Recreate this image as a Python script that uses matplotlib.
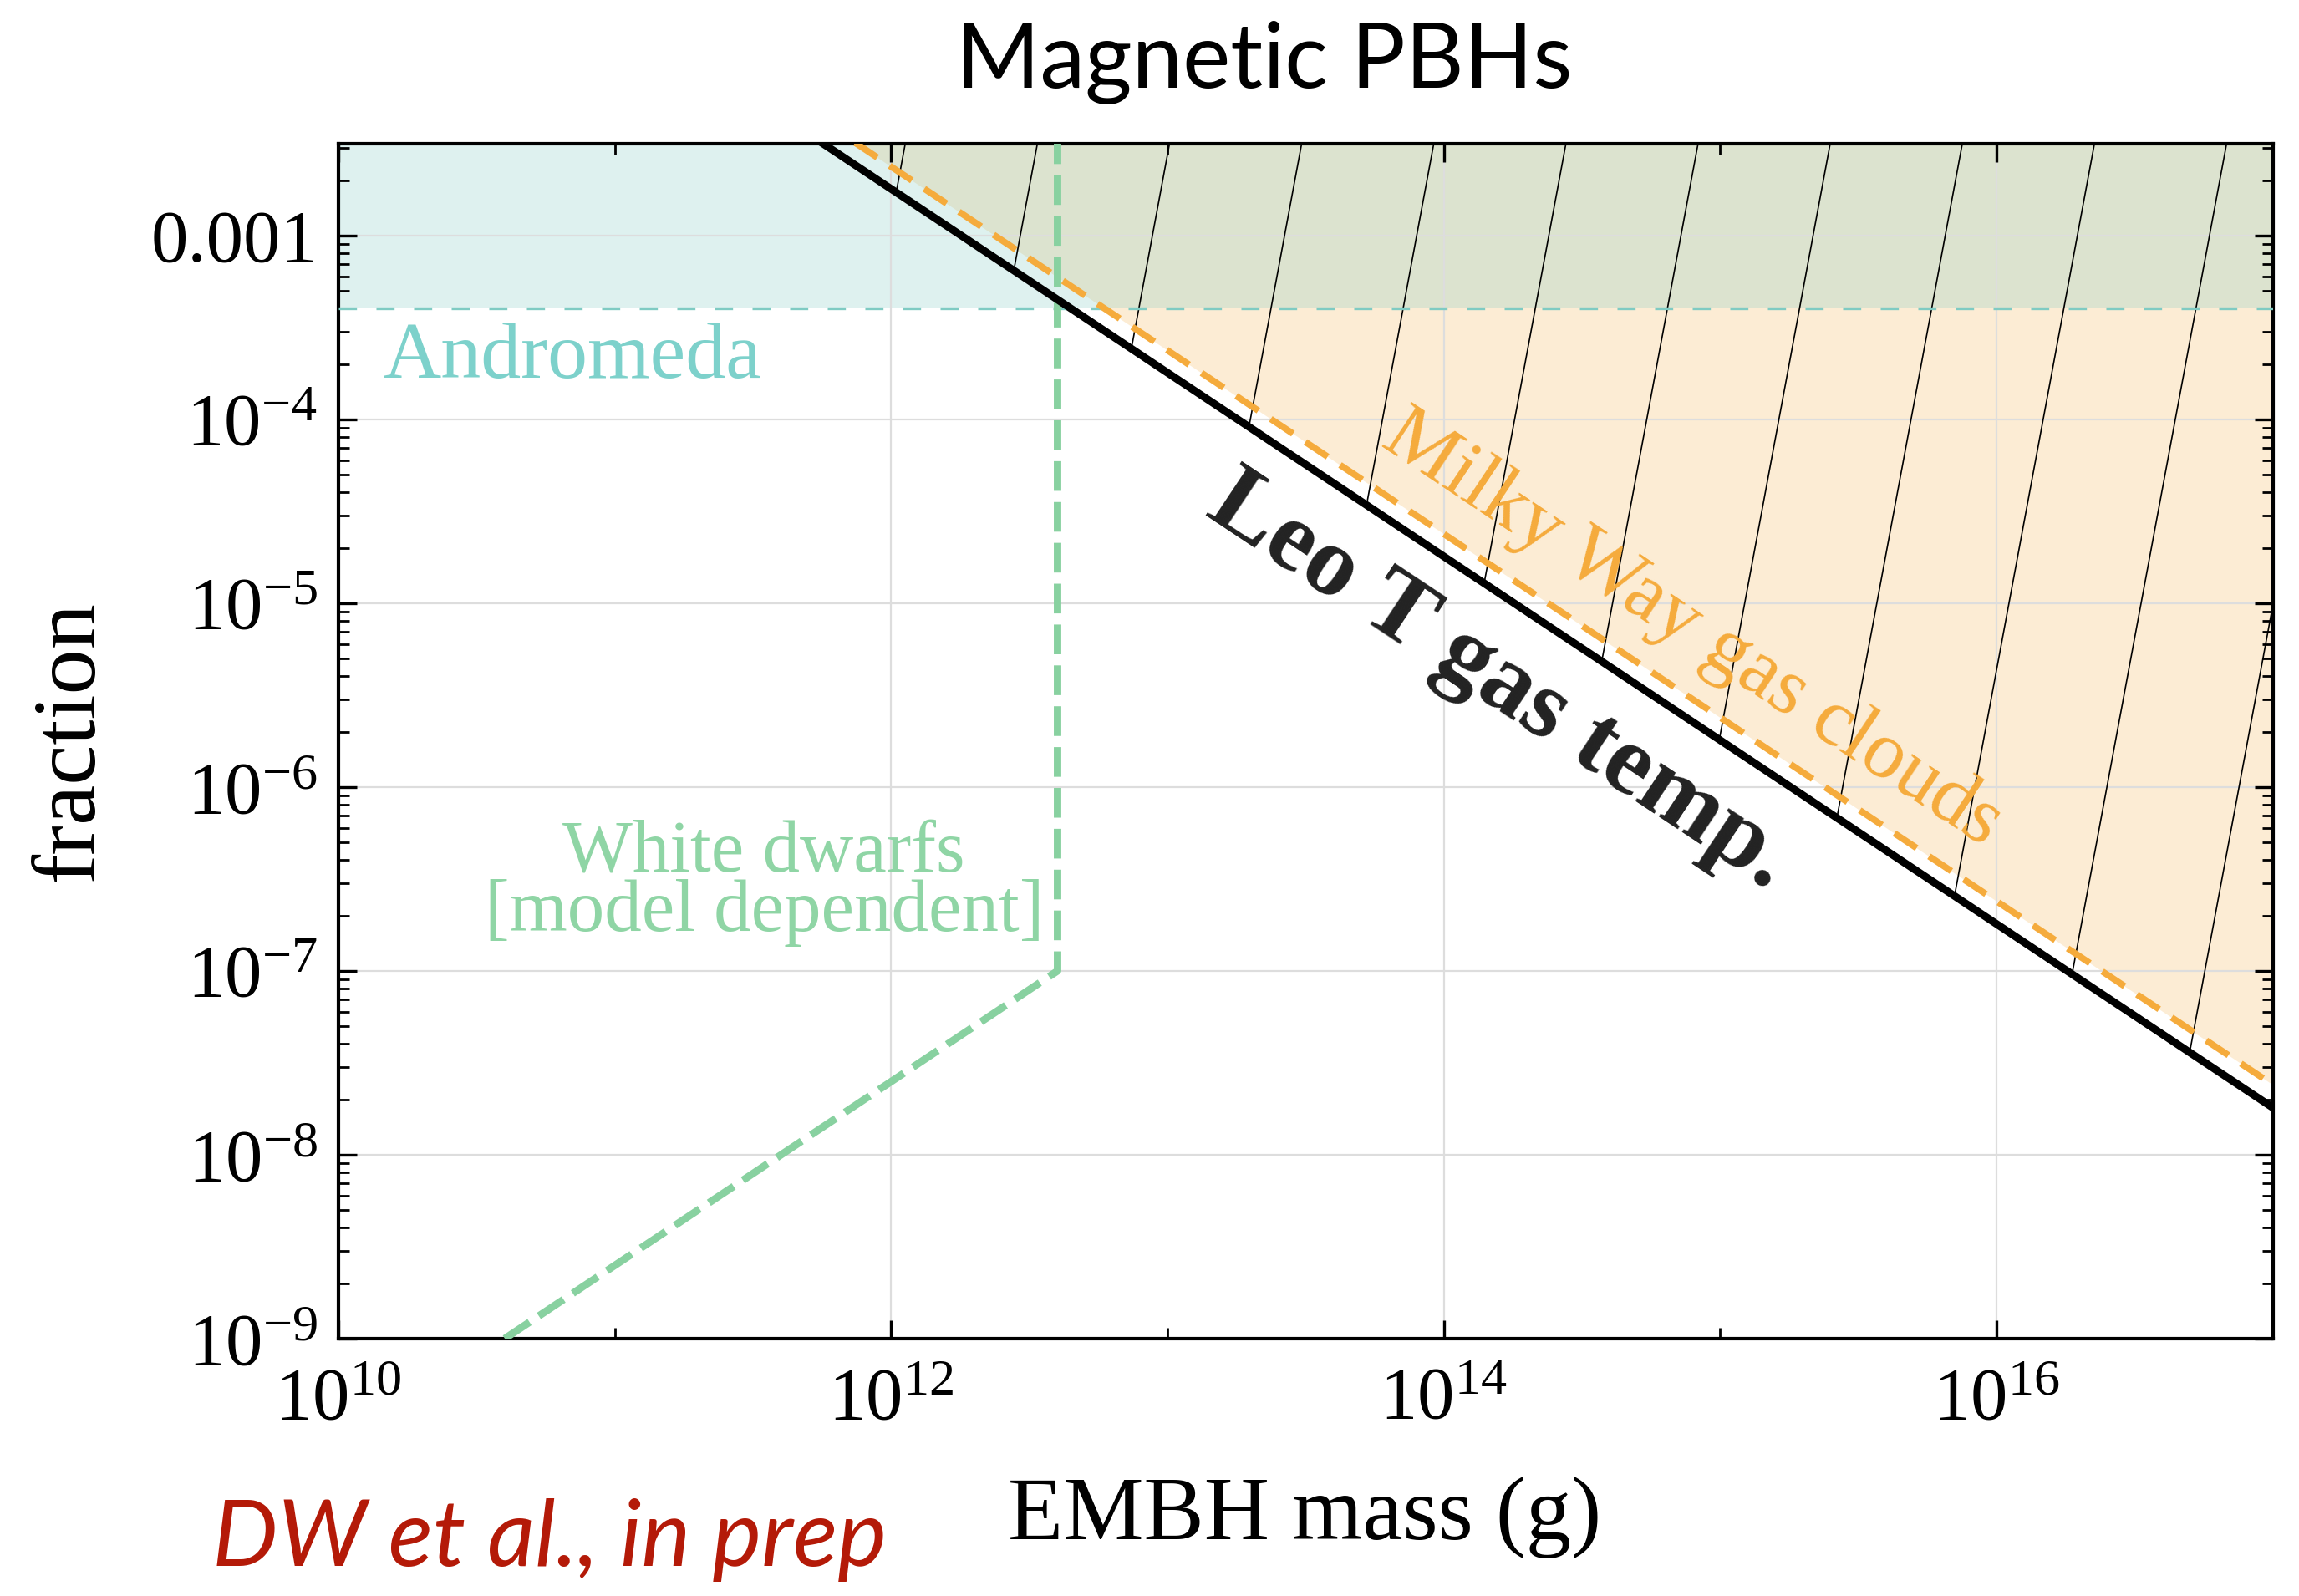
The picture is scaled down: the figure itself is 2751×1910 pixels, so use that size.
import matplotlib
matplotlib.use('Agg')
import matplotlib.pyplot as plt
import numpy as np
from matplotlib.lines import Line2D
from matplotlib.ticker import FixedLocator, FixedFormatter, LogLocator, NullFormatter

plt.rcParams['font.family'] = 'Liberation Serif'
plt.rcParams['mathtext.fontset'] = 'custom'
plt.rcParams['mathtext.rm'] = 'Liberation Serif'
plt.rcParams['mathtext.it'] = 'Liberation Serif:italic'
plt.rcParams['mathtext.bf'] = 'Liberation Serif:bold'

# constraint curves: EMBH mass (g) vs. allowed fraction
leo_mass = [5.6e11, 1e17]
leo_frac = [3.2e-3, 1.8e-8]
mw_mass = [7.4e11, 1e17]
mw_frac = [3.2e-3, 2.4e-8]
andromeda_frac = 4e-4
wd_mass = [4e10, 4e12, 4e12]
wd_frac = [1e-9, 1e-7, 3.2e-3]

x_ticks = [1e10, 1e12, 1e14, 1e16]
x_ticklabels = [r'$10^{10}$', r'$10^{12}$', r'$10^{14}$', r'$10^{16}$']
x_minor = [1e11, 1e13, 1e15, 1e17]
y_ticks = [1e-9, 1e-8, 1e-7, 1e-6, 1e-5, 1e-4, 1e-3]
y_ticklabels = [r'$10^{-9}$', r'$10^{-8}$', r'$10^{-7}$', r'$10^{-6}$',
                r'$10^{-5}$', r'$10^{-4}$', '0.001']

orange = '#f5ab3c'
cyan = '#7fcbc3'
green = '#88d1a0'

fig = plt.figure(figsize=(13.755, 9.55), dpi=200)
ax = fig.add_axes([0.1472, 0.1613, 0.9887 - 0.1472, 0.910 - 0.1613])
ax.set_xscale('log')
ax.set_yscale('log')
ax.set_xlim(1e10, 1e17)
ax.set_ylim(1e-9, 10 ** -2.5)

# shaded exclusion regions
ax.fill_between(mw_mass, mw_frac, 1, color=orange, alpha=0.22, lw=0, zorder=1)
ax.axhspan(andromeda_frac, 1, color=cyan, alpha=0.25, lw=0, zorder=1.2)
leo_region = ax.fill_between(leo_mass, leo_frac, 1, facecolor='none', lw=0)
leo_path = leo_region.get_paths()[0]

# steep hatching over the Leo T excluded region
spacing, lean, phase = 0.0683, 0.1149, 0.293
for k in range(-6, 14):
    top = phase + k * spacing
    hl = Line2D([top, top - lean], [1, 0], transform=ax.transAxes,
                color='black', lw=0.6, zorder=2)
    ax.add_line(hl)
    hl.set_clip_path(leo_path, ax.transData)

ax.axhline(andromeda_frac, color=cyan, lw=1.2, dashes=(6.5, 7), zorder=3)
ax.plot(wd_mass, wd_frac, color=green, lw=3.2, dashes=(4.0, 1.5), zorder=3)
ax.plot(mw_mass, mw_frac, color=orange, lw=2.8, dashes=(4.1, 2.3), zorder=4)
ax.plot(leo_mass, leo_frac, color='black', lw=3.3, zorder=5)
ax.set_xlim(1e10, 1e17)
ax.set_ylim(1e-9, 10 ** -2.5)

# ticks and grid
ax.xaxis.set_major_locator(FixedLocator(x_ticks))
ax.xaxis.set_major_formatter(FixedFormatter(x_ticklabels))
ax.xaxis.set_minor_locator(FixedLocator(x_minor))
ax.xaxis.set_minor_formatter(NullFormatter())
ax.yaxis.set_major_locator(FixedLocator(y_ticks))
ax.yaxis.set_major_formatter(FixedFormatter(y_ticklabels))
ax.yaxis.set_minor_locator(LogLocator(base=10, subs=np.arange(2, 10)))
ax.yaxis.set_minor_formatter(NullFormatter())
ax.tick_params(which='both', direction='in', top=True, right=True)
ax.tick_params(which='major', length=8, width=1.2, labelsize=32, pad=9)
ax.tick_params(axis='x', which='major', pad=12)
ax.tick_params(which='minor', length=4.8, width=1.0)
ax.grid(which='major', color='#dddddd', lw=0.8)
for sp in ax.spines.values():
    sp.set_linewidth(1.5)

# rotation angle that follows the Leo T line on screen
fig.canvas.draw()
p = ax.transData.transform(np.column_stack([leo_mass, leo_frac]))
angle = np.degrees(np.arctan2(p[1, 1] - p[0, 1], p[1, 0] - p[0, 0]))

ax.text(10 ** 10.16, 1.68e-4, 'Andromeda', color='#7dd1cb', fontsize=34.5,
        ha='left', va='baseline')
ax.text(10 ** 11.54, 3.0e-7, 'White dwarfs\n[model dependent]', color='#8fd5a5',
        fontsize=32, ha='center', va='center', multialignment='center',
        linespacing=0.85)
ax.text(10 ** 14.2, 3.7e-6, 'Leo T gas temp.', color='#222222', fontsize=43,
        fontweight='bold', rotation=angle, rotation_mode='anchor',
        ha='center', va='center')
ax.text(10 ** 14.9, 7.2e-6, 'Milky Way gas clouds', color=orange, fontsize=35,
        rotation=angle, rotation_mode='anchor', ha='center', va='center')

fig.text(0.5497, 0.945, 'Magnetic PBHs', family='Lato', fontsize=39,
         ha='center', va='baseline')
fig.text(0.5675, 0.0356, 'EMBH mass (g)', fontsize=39, ha='center', va='baseline')
fig.text(0.0306, 0.536, 'fraction', fontsize=39, rotation=90,
         ha='center', va='center')
fig.text(0.0925, 0.019, 'DW et al., in prep', family='Lato', style='italic',
         fontsize=40, color='#b41a08', ha='left', va='baseline')

fig.savefig('out.png', dpi=200)
